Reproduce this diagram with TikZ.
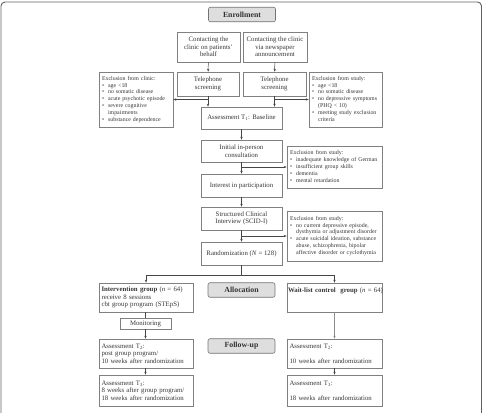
\documentclass[tikz,border=0pt]{standalone}
\usepackage{fontspec}
\setmainfont{Liberation Serif}
\usepackage{tikz}
\usetikzlibrary{positioning,arrows.meta,calc}
\definecolor{framecol}{RGB}{95,95,95}
\definecolor{linecol}{RGB}{70,70,70}
\definecolor{phasecol}{RGB}{222,222,222}
\definecolor{txtcol}{RGB}{55,55,55}

\begin{document}
\begin{tikzpicture}[x=1pt, y=-1pt,
  box/.style={rectangle, draw=black!50, fill=white, line width=0.6pt, text=txtcol,
              font=\fontsize{6.8}{7.4}\selectfont, align=center, inner sep=1pt,
              minimum width=#1},
  lbox/.style={box=#1, align=left, text width=#1-5pt},
  phase/.style={rectangle, draw=black!55, fill=phasecol, rounded corners=2pt, line width=0.6pt,
                font=\fontsize{7.8}{9}\selectfont\bfseries, text=black!80,
                minimum width=67pt, minimum height=14.5pt},
  excl/.style={rectangle, draw=black!50, fill=white, line width=0.6pt, text=txtcol,
               font=\fontsize{5.9}{6.9}\selectfont, align=left, inner sep=3pt,
               text width=#1-6pt, minimum width=#1},
  ar/.style={-{Stealth[length=3pt,width=2.4pt]}, line width=0.5pt, #1},
  ar/.default=linecol,
]
\clip (0,0) rectangle (483,413);
% outer frame
\draw[framecol, line width=0.9pt, rounded corners=4pt] (1,2) rectangle (481.5,440);

% enrollment
\node[phase] (enroll) at (242,14.5) {Enrollment};
\node[box=63pt, minimum height=30pt] (con1) at (208.5,47) {Contacting the\\clinic on patients’\\behalf};
\node[box=64pt, minimum height=30pt] (con2) at (275,47) {Contacting the clinic\\via newspaper\\announcement};
\node[box=62pt, minimum height=24pt] (tel1) at (208,84) {Telephone\\screening};
\node[box=63pt, minimum height=24pt] (tel2) at (274.5,84) {Telephone\\screening};

\node[excl=74pt, minimum height=55pt] (exclin) at (136,99.5)
  {\begin{tabular}{@{}l@{\hspace{4pt}}l@{}}
   \multicolumn{2}{@{}l}{Exclusion from clinic:}\\
   \textbullet & age <18\\
   \textbullet & no somatic disease\\
   \textbullet & acute psychotic episode\\
   \textbullet & severe cognitive\\
               & impairments\\
   \textbullet & substance dependence
   \end{tabular}};
\node[excl=73pt, minimum height=55pt] (exstudy) at (345.5,99.5)
  {\begin{tabular}{@{}l@{\hspace{4pt}}l@{}}
   \multicolumn{2}{@{}l}{Exclusion from study:}\\
   \textbullet & age <18\\
   \textbullet & no somatic disease\\
   \textbullet & no depressive symptoms\\
               & (PHQ < 10)\\
   \textbullet & meeting study exclusion\\
               & criteria
   \end{tabular}};

\node[box=81pt, minimum height=22pt] (base) at (241.5,118) {Assessment T\textsubscript{1}: Baseline};
\node[box=81pt, minimum height=22pt] (init) at (241.5,151) {Initial in-person\\consultation};
\node[box=81pt, minimum height=23pt] (inter) at (241.5,185.5) {Interest in participation};
\node[box=81pt, minimum height=23pt] (scid) at (241.5,218.5) {Structured Clinical\\Interview (SCID-I)};
\node[box=81pt, minimum height=23pt] (rand) at (241.5,253.5) {Randomization (\textit{N} = 128)};

\node[excl=95pt, minimum height=42pt] (exgerman) at (334.5,167)
  {\begin{tabular}{@{}l@{\hspace{4pt}}l@{}}
   \multicolumn{2}{@{}l}{Exclusion from study:}\\
   \textbullet & inadequate knowledge of German\\
   \textbullet & insufficient group skills\\
   \textbullet & dementia\\
   \textbullet & mental retardation
   \end{tabular}};
\node[excl=95pt, minimum height=50pt] (exdiag) at (334.5,236)
  {\begin{tabular}{@{}l@{\hspace{4pt}}l@{}}
   \multicolumn{2}{@{}l}{Exclusion from study:}\\
   \textbullet & no current depressive episode,\\
               & dysthymia or adjustment disorder\\
   \textbullet & acute suicidal ideation, substance\\
               & abuse, schizophrenia, bipolar\\
               & affective disorder or cyclothymia
   \end{tabular}};

% allocation
\node[phase] (alloc) at (241.5,290) {Allocation};
\node[lbox=94pt, minimum height=29pt] (ig) at (146,297.5)
  {\textbf{Intervention group} (\textit{n} = 64)\\receive 8 sessions\\cbt group program (STEpS)};
\node[lbox=95pt, text width=93pt, minimum height=29pt] (wl) at (334.5,297.5)
  {\mbox{\textbf{Wait-list control\ \ group} (\textit{n} = 64)}\\\mbox{}\\\mbox{}};
\node[box=51pt, minimum height=11pt] (mon) at (145.5,323.5) {Monitoring};

% follow-up
\node[phase] (fu) at (241.5,346) {Follow-up};
\node[lbox=94pt, minimum height=29pt] (t2a) at (146,353.5)
  {Assessment T\textsubscript{2}:\\post group program/\\10 weeks after randomization};
\node[lbox=95pt, minimum height=29pt] (t2b) at (334.5,353.5)
  {Assessment T\textsubscript{2}:\\\mbox{}\\10 weeks after randomization};
\node[lbox=94pt, minimum height=31pt] (t3a) at (146,390.5)
  {Assessment T\textsubscript{3}:\\8 weeks after group program/\\18 weeks after randomization};
\node[lbox=95pt, minimum height=31pt] (t3b) at (334.5,390.5)
  {Assessment T\textsubscript{3}:\\\mbox{}\\18 weeks after randomization};

% connectors
\draw[ar] (con1) -- (tel1);
\draw[ar] (con2) -- (tel2);
\draw[ar] (tel1.south) -- (tel1.south |- base.north);
\draw[ar] (tel2.south) -- (tel2.south |- base.north);
\draw[ar] (tel1.south |- exclin.east) -- (exclin.east);
\draw[ar] (tel2.south |- exstudy.west) -- (exstudy.west);
\draw[ar] (base) -- (init);
\draw[ar] (init) -- (inter);
\draw[ar] (inter) -- (scid);
\draw[ar] (scid) -- (rand);
\draw[ar] (init.south |- exgerman.west) -- (exgerman.west);
\draw[ar] (scid.south |- exdiag.west) -- (exdiag.west);
\draw[linecol, line width=0.5pt] (rand.south) -- ++(0,10) coordinate (split);
\draw[ar] (split) -| (ig.north);
\draw[ar] (split) -| (wl.north);
\draw[linecol, line width=0.5pt] (ig.south -| mon.north) -- (mon.north);
\draw[ar] (mon.south) -- (mon.south |- t2a.north);
\draw[ar=black!45] (wl) -- (t2b);
\draw[ar] (t2a.south -| mon.south) -- (t3a.north -| mon.south);
\draw[ar] (t2b) -- (t3b);
\end{tikzpicture}
\end{document}
